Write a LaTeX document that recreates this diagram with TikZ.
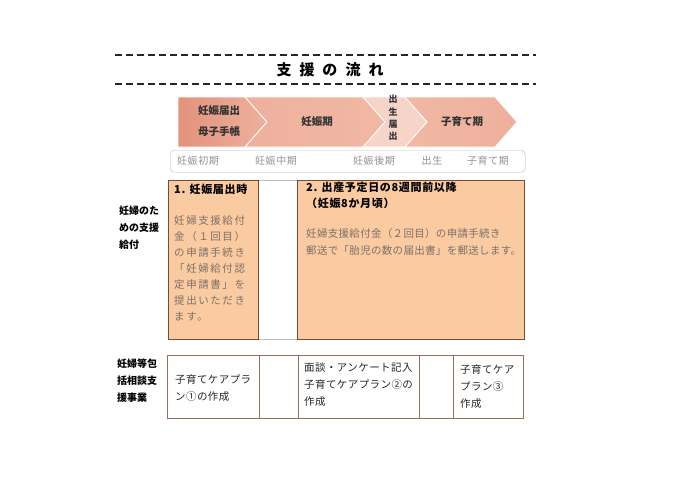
\documentclass[tikz,border=0pt]{standalone}
\usepackage{fontspec}
\setmainfont{Noto Sans CJK JP}
\usepackage{tikz}
\usetikzlibrary{positioning, calc}
\definecolor{peach}{RGB}{250,202,160}
\definecolor{rimbrown}{RGB}{115,78,52}
\definecolor{salmonA}{RGB}{226,146,124}
\definecolor{salmonB}{RGB}{238,176,157}
\definecolor{salmonC}{RGB}{247,212,200}
\definecolor{salmonD}{RGB}{241,184,164}
\definecolor{softgray}{RGB}{125,112,105}
\tikzstyle{dashline} = [line width=1.8pt, dash pattern=on 7pt off 4pt, black!85]
\tikzstyle{pagetitle} = [font=\fontsize{15}{18}\selectfont\bfseries]
\tikzstyle{chev} = [draw=white, line width=0.8pt]
\tikzstyle{chevtext} = [font=\fontsize{10.5}{21}\selectfont\bfseries, text=black!80, align=center, inner sep=0pt]
\tikzstyle{phasebar} = [rectangle, rounded corners=4pt, draw=gray!55, fill=white, anchor=north west, inner sep=0pt]
\tikzstyle{phase} = [font=\fontsize{10}{12}\selectfont\addfontfeature{LetterSpace=6}, text=gray!85, inner sep=0pt]
\tikzstyle{sidelabel} = [font=\fontsize{10}{17}\selectfont\bfseries, align=left, anchor=west, inner sep=0pt]
\tikzstyle{panel} = [rectangle, draw=rimbrown, line width=1pt, fill=peach, anchor=north west, inner sep=0pt]
\tikzstyle{gap} = [rectangle, draw=gray!50, fill=white, anchor=north west, inner sep=0pt]
\tikzstyle{heading} = [font=\fontsize{11}{16}\selectfont\bfseries\addfontfeature{LetterSpace=6}, align=left, anchor=west, inner sep=0pt]
\tikzstyle{body} = [font=\fontsize{10.5}{16}\selectfont\addfontfeature{LetterSpace=15}, text=softgray, align=left, anchor=west, inner sep=0pt]
\tikzstyle{cell} = [rectangle, draw=rimbrown!80, line width=0.8pt, fill=white, anchor=north west, inner sep=0pt]
\tikzstyle{celltext} = [font=\fontsize{10.5}{17}\selectfont\addfontfeature{LetterSpace=4}, text=black!85, align=left, anchor=west, inner sep=0pt]

\begin{document}
\begin{tikzpicture}[x=1pt,y=-1pt]
\useasboundingbox (0,0) rectangle (700,495);

% title between two dashed rules
\draw[dashline] (115,55) -- (536,55);
\node[pagetitle] (flowtitle) at (330,70) {支\hspace{8pt}援\hspace{8pt}の\hspace{8pt}流\hspace{8pt}れ};
\draw[dashline] (115,84) -- (536,84);

% chevrons
\path[chev, left color=salmonA, right color=salmonB] (178,97) -- (245,97) -- (267,122) -- (245,147) -- (178,147) -- cycle;
\path[chev, left color=salmonB, right color=salmonD] (245,97) -- (363,97) -- (385,122) -- (363,147) -- (245,147) -- (267,122) -- cycle;
\path[chev, fill=salmonC] (363,97) -- (405,97) -- (427,122) -- (405,147) -- (363,147) -- (385,122) -- cycle;
\path[chev, left color=salmonD, right color=salmonB] (405,97) -- (495,97) -- (517,122) -- (495,147) -- (405,147) -- (427,122) -- cycle;
\node[chevtext] (notice) at (219,121) {妊娠届出\\母子手帳};
\node[chevtext] (pregnancy) at (317,122) {妊娠期};
\node[chevtext, font=\fontsize{9}{12.3}\selectfont\bfseries] (birth) at (393,118) {出\\生\\届\\出};
\node[chevtext] (childcare) at (462,122) {子育て期};

% phase bar
\node[phasebar, minimum width=355pt, minimum height=22pt] (phases) at (170,150) {};
\foreach \px/\pt [count=\i] in {198/妊娠初期, 276/妊娠中期, 374/妊娠後期, 432/出生, 488/子育て期}
  \node[phase] (phase\i) at (\px,161) {\pt};

% support grants
\node[sidelabel] (grantlabel) at (119,228) {妊婦のた\\めの支援\\給付};
\node[gap, minimum width=356pt, minimum height=159pt] (grantarea) at (168,180) {};
\node[panel, minimum width=90pt, minimum height=159pt] (grant1) at (168,180) {};
\node[panel, minimum width=227pt, minimum height=159pt] (grant2) at (297,180) {};
\node[heading] (grant1head) at (174,189) {1. 妊娠届出時};
\node[body] (grant1text) at (174,268) {妊婦支援給付\\金（１回目）\\の申請手続き\\「妊婦給付認\\定申請書」を\\提出いただき\\ます。};
\node[heading] (grant2head) at (306,195) {2. 出産予定日の8週間前以降\\（妊娠8か月頃）};
\node[body, font=\fontsize{10.5}{17}\selectfont\addfontfeature{LetterSpace=3}] (grant2text) at (306,241.5) {妊婦支援給付金（２回目）の申請手続き\\郵送で「胎児の数の届出書」を郵送します。};

% consultation plans
\node[sidelabel] (planlabel) at (117,380.5) {妊婦等包\\括相談支\\援事業};
\node[cell, minimum width=92pt, minimum height=63pt] (plan1) at (167,355) {};
\node[cell, minimum width=39pt, minimum height=63pt] (plan2) at (259,355) {};
\node[cell, minimum width=121pt, minimum height=63pt] (plan3) at (298,355) {};
\node[cell, minimum width=34pt, minimum height=63pt] (plan4) at (419,355) {};
\node[cell, minimum width=70pt, minimum height=63pt] (plan5) at (453,355) {};
\node[celltext] (plan1text) at (175,388.5) {子育てケアプラ\\ン①の作成};
\node[celltext] (plan3text) at (304,385) {面談・アンケート記入\\子育てケアプラン②の\\作成};
\node[celltext] (plan5text) at (460,387) {子育てケア\\プラン③\\作成};
\end{tikzpicture}
\end{document}
